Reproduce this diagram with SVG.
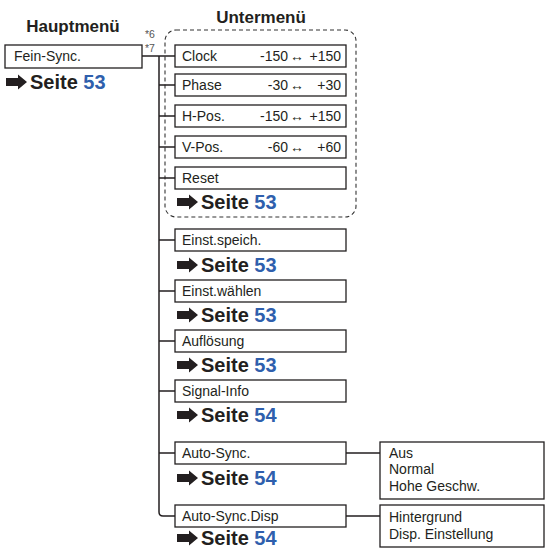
<svg xmlns="http://www.w3.org/2000/svg" xmlns:xlink="http://www.w3.org/1999/xlink" width="545" height="549" viewBox="0 0 545 549">
<style>
text{font-family:"Liberation Sans",Arial,Helvetica,sans-serif;fill:#231f20}
.box{fill:#fff;stroke:#231f20;stroke-width:1.3}
.lbl{font-size:14px}
.hd{font-size:17px;font-weight:bold}
.sei{font-size:20px;font-weight:bold}
.num{fill:#2f5fad}
.fn{font-size:10.5px;fill:#555}
.ln{fill:none;stroke:#231f20;stroke-width:1.5}
.dash{fill:none;stroke:#333;stroke-width:1.1;stroke-dasharray:4 3}
.val{font-size:14px}
</style>
<defs>
<path id="arr" d="M0,-4 H12 V-7.5 L21,0 L12,7.5 V4 H0 Z" fill="#231f20"/>
</defs>
<text class="hd" x="73" y="32" text-anchor="middle">Hauptmenü</text>
<text class="hd" x="261" y="23" text-anchor="middle">Untermenü</text>
<text class="fn" x="145" y="38">*6</text>
<text class="fn" x="145" y="52">*7</text>
<rect class="dash" x="165" y="30" width="191" height="187" rx="11"/>
<g id="connectors">
<path class="ln" d="M142,56 H175"/>
<path class="ln" d="M159,56 V512 Q159,516 163,516 H175"/>
<path class="ln" d="M159,85 H175 M159,116 H175 M159,147 H175 M159,178 H175 M159,240 H175 M159,291 H175 M159,341 H175 M159,391 H175 M159,453 H175"/>
<path class="ln" d="M346,453 H380 M346,516 H380"/>
</g>
<g id="fein-sync">
<rect class="box" x="5" y="45" width="137" height="23"/>
<text class="lbl" x="14" y="61">Fein-Sync.</text>
<use xlink:href="#arr" x="6" y="82"/>
<text class="sei" x="30" y="89">Seite <tspan class="num">53</tspan></text>
</g>
<g id="clock">
<rect class="box" x="175" y="45" width="171" height="22"/>
<text class="lbl" x="182" y="61">Clock</text>
<text class="lbl" x="288" y="61" text-anchor="end">-150</text>
<text class="lbl" x="297" y="61" text-anchor="middle">↔</text>
<text class="lbl" x="341" y="61" text-anchor="end">+150</text>
</g>
<g id="phase">
<rect class="box" x="175" y="74" width="171" height="22"/>
<text class="lbl" x="182" y="90">Phase</text>
<text class="lbl" x="288" y="90" text-anchor="end">-30</text>
<text class="lbl" x="297" y="90" text-anchor="middle">↔</text>
<text class="lbl" x="341" y="90" text-anchor="end">+30</text>
</g>
<g id="h-pos">
<rect class="box" x="175" y="105" width="171" height="22"/>
<text class="lbl" x="182" y="121">H-Pos.</text>
<text class="lbl" x="288" y="121" text-anchor="end">-150</text>
<text class="lbl" x="297" y="121" text-anchor="middle">↔</text>
<text class="lbl" x="341" y="121" text-anchor="end">+150</text>
</g>
<g id="v-pos">
<rect class="box" x="175" y="136" width="171" height="22"/>
<text class="lbl" x="182" y="152">V-Pos.</text>
<text class="lbl" x="288" y="152" text-anchor="end">-60</text>
<text class="lbl" x="297" y="152" text-anchor="middle">↔</text>
<text class="lbl" x="341" y="152" text-anchor="end">+60</text>
</g>
<g id="reset">
<rect class="box" x="175" y="167" width="171" height="22"/>
<text class="lbl" x="182" y="183">Reset</text>
<use xlink:href="#arr" x="177" y="202"/>
<text class="sei" x="201" y="209">Seite <tspan class="num">53</tspan></text>
</g>
<g id="einst-speich">
<rect class="box" x="175" y="229" width="171" height="22"/>
<text class="lbl" x="182" y="245">Einst.speich.</text>
<use xlink:href="#arr" x="177" y="265"/>
<text class="sei" x="201" y="272">Seite <tspan class="num">53</tspan></text>
</g>
<g id="einst-waehlen">
<rect class="box" x="175" y="280" width="171" height="22"/>
<text class="lbl" x="182" y="296">Einst.wählen</text>
<use xlink:href="#arr" x="177" y="315"/>
<text class="sei" x="201" y="322">Seite <tspan class="num">53</tspan></text>
</g>
<g id="aufloesung">
<rect class="box" x="175" y="330" width="171" height="22"/>
<text class="lbl" x="182" y="346">Auflösung</text>
<use xlink:href="#arr" x="177" y="365"/>
<text class="sei" x="201" y="372">Seite <tspan class="num">53</tspan></text>
</g>
<g id="signal-info">
<rect class="box" x="175" y="380" width="171" height="22"/>
<text class="lbl" x="182" y="396">Signal-Info</text>
<use xlink:href="#arr" x="177" y="415"/>
<text class="sei" x="201" y="422">Seite <tspan class="num">54</tspan></text>
</g>
<g id="auto-sync">
<rect class="box" x="175" y="442" width="171" height="22"/>
<text class="lbl" x="182" y="458">Auto-Sync.</text>
<use xlink:href="#arr" x="177" y="478"/>
<text class="sei" x="201" y="485">Seite <tspan class="num">54</tspan></text>
</g>
<g id="auto-sync-values">
<rect class="box" x="380" y="442" width="164" height="57"/>
<text class="val" x="389" y="458">Aus</text>
<text class="val" x="389" y="474">Normal</text>
<text class="val" x="389" y="491">Hohe Geschw.</text>
</g>
<g id="auto-sync-disp">
<rect class="box" x="175" y="505" width="171" height="22"/>
<text class="lbl" x="182" y="521">Auto-Sync.Disp</text>
<use xlink:href="#arr" x="177" y="538"/>
<text class="sei" x="201" y="545">Seite <tspan class="num">54</tspan></text>
</g>
<g id="auto-sync-disp-values">
<rect class="box" x="380" y="505" width="164" height="42"/>
<text class="val" x="389" y="522">Hintergrund</text>
<text class="val" x="389" y="539">Disp. Einstellung</text>
</g>
</svg>
